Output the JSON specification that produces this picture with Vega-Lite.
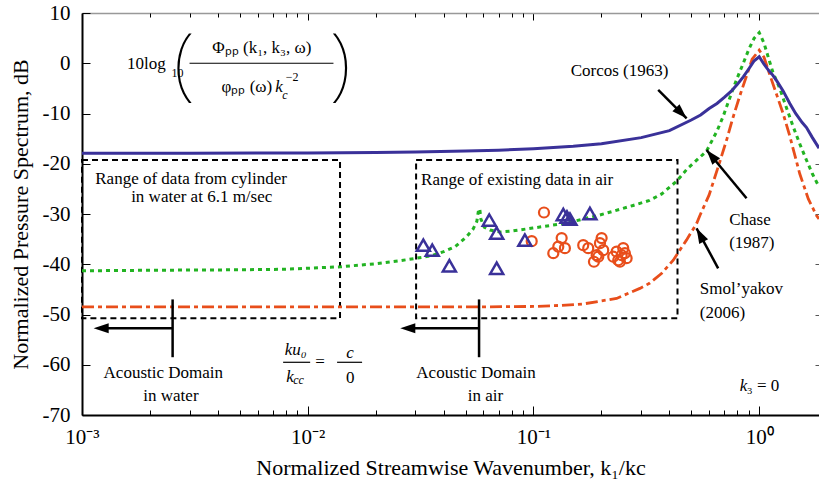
{
 "$schema": "https://vega.github.io/schema/vega-lite/v6.json",
 "width": 737, "height": 402,
 "autosize": {"type": "none"},
 "padding": {"left": 82, "top": 13, "right": 0, "bottom": 67},
 "background": "white",
 "config": {"view": {"stroke": null}, "font": "Liberation Serif", "text": {"font": "Liberation Serif", "color": "black"}},
 "datasets": {
  "corcos": [
   {"k":0.001,"v":-17.9},{"k":0.003,"v":-17.9},{"k":0.01,"v":-17.85},{"k":0.02,"v":-17.75},{"k":0.03,"v":-17.65},{"k":0.05,"v":-17.45},{"k":0.07,"v":-17.3},{"k":0.1,"v":-17.0},{"k":0.15,"v":-16.5},{"k":0.2,"v":-16.0},{"k":0.3,"v":-14.8},{"k":0.4,"v":-13.4},{"k":0.5,"v":-11.3},{"k":0.55,"v":-10.3},{"k":0.6,"v":-9.0},{"k":0.65,"v":-8.0},{"k":0.7,"v":-6.8},{"k":0.75,"v":-5.6},{"k":0.8,"v":-4.2},{"k":0.85,"v":-2.7},{"k":0.9,"v":-1.1},{"k":0.95,"v":0.5},{"k":1.0,"v":1.3},{"k":1.05,"v":-0.2},{"k":1.1,"v":-1.4},{"k":1.15,"v":-2.4},{"k":1.2,"v":-3.6},{"k":1.276,"v":-5.5},{"k":1.366,"v":-8.0},{"k":1.45,"v":-10.0},{"k":1.55,"v":-11.8},{"k":1.62,"v":-12.8},{"k":1.72,"v":-14.8},{"k":1.84,"v":-16.9}
  ],
  "chase": [
   {"k":0.001,"v":-41.3},{"k":0.002,"v":-41.2},{"k":0.005,"v":-41.1},{"k":0.0078,"v":-41.0},{"k":0.01,"v":-40.8},{"k":0.014,"v":-40.5},{"k":0.02,"v":-39.9},{"k":0.0256,"v":-39.3},{"k":0.0325,"v":-38.6},{"k":0.0358,"v":-38.2},{"k":0.04,"v":-37.5},{"k":0.045,"v":-36.5},{"k":0.0506,"v":-34.5},{"k":0.054,"v":-33.0},{"k":0.0561,"v":-31.5},{"k":0.0572,"v":-29.0},{"k":0.0578,"v":-29.0},{"k":0.0585,"v":-31.0},{"k":0.0605,"v":-32.6},{"k":0.0642,"v":-33.2},{"k":0.0711,"v":-33.6},{"k":0.08,"v":-33.4},{"k":0.0992,"v":-32.8},{"k":0.1403,"v":-31.8},{"k":0.197,"v":-30.2},{"k":0.2765,"v":-28.3},{"k":0.3265,"v":-27.3},{"k":0.37,"v":-26.0},{"k":0.43,"v":-23.5},{"k":0.48,"v":-21.0},{"k":0.584,"v":-17.5},{"k":0.65,"v":-13.5},{"k":0.692,"v":-10.6},{"k":0.763,"v":-5.3},{"k":0.793,"v":-3.3},{"k":0.85,"v":0.0},{"k":0.9,"v":2.8},{"k":0.95,"v":5.0},{"k":1.0,"v":6.1},{"k":1.05,"v":4.0},{"k":1.1,"v":1.0},{"k":1.15,"v":-1.8},{"k":1.233,"v":-5.0},{"k":1.3,"v":-8.0},{"k":1.413,"v":-12.6},{"k":1.52,"v":-16.3},{"k":1.62,"v":-19.3},{"k":1.72,"v":-22.0},{"k":1.84,"v":-24.6}
  ],
  "smol": [
   {"k":0.001,"v":-48.5},{"k":0.01,"v":-48.5},{"k":0.05,"v":-48.5},{"k":0.1,"v":-48.4},{"k":0.13,"v":-48.2},{"k":0.166,"v":-47.9},{"k":0.2335,"v":-46.8},{"k":0.296,"v":-44.8},{"k":0.3265,"v":-43.8},{"k":0.37,"v":-41.8},{"k":0.416,"v":-39.2},{"k":0.43,"v":-38.2},{"k":0.476,"v":-35.2},{"k":0.528,"v":-31.9},{"k":0.546,"v":-30.3},{"k":0.6,"v":-26.2},{"k":0.669,"v":-19.6},{"k":0.72,"v":-15.0},{"k":0.763,"v":-11.0},{"k":0.82,"v":-6.5},{"k":0.879,"v":-2.5},{"k":0.93,"v":0.8},{"k":1.0,"v":2.6},{"k":1.05,"v":1.2},{"k":1.114,"v":-2.3},{"k":1.2,"v":-6.5},{"k":1.276,"v":-10.0},{"k":1.366,"v":-14.5},{"k":1.512,"v":-22.0},{"k":1.65,"v":-27.0},{"k":1.794,"v":-30.3},{"k":1.84,"v":-31.0}
  ],
  "tri": [
   {"k":0.0325,"v":-36.2},{"k":0.0356,"v":-37.2},{"k":0.0424,"v":-40.3},{"k":0.0637,"v":-31.2},{"k":0.0687,"v":-33.8},{"k":0.0687,"v":-40.8},{"k":0.0916,"v":-35.2},{"k":0.1355,"v":-30.1},{"k":0.1407,"v":-30.6},{"k":0.1451,"v":-31.0},{"k":0.1778,"v":-29.9}
  ],
  "circ": [
   {"k":0.1113,"v":-29.7},{"k":0.0982,"v":-35.4},{"k":0.1333,"v":-34.8},{"k":0.1378,"v":-36.8},{"k":0.1288,"v":-36.5},{"k":0.1224,"v":-37.8},{"k":0.1661,"v":-36.2},{"k":0.1748,"v":-36.8},{"k":0.1905,"v":-38.2},{"k":0.1853,"v":-39.5},{"k":0.2004,"v":-34.8},{"k":0.197,"v":-35.8},{"k":0.2037,"v":-37.2},{"k":0.1937,"v":-38.5},{"k":0.2256,"v":-38.5},{"k":0.2374,"v":-39.2},{"k":0.2498,"v":-36.8},{"k":0.2541,"v":-37.8},{"k":0.2458,"v":-38.2},{"k":0.2335,"v":-37.5},{"k":0.2415,"v":-39.5},{"k":0.2586,"v":-38.8}
  ],
  "boxes": [
   {"k":0.001,"k2":0.0139,"v":-19.25,"v2":-50.76},
   {"k":0.0302,"k2":0.4345,"v":-19.25,"v2":-50.76}
  ],
  "shafts": [
   {"k":0.3568,"k2":0.4768,"v":-5.32,"v2":-10.96},
   {"k":0.8787,"k2":0.5843,"v":-26.88,"v2":-17.26},
   {"k":0.6578,"k2":0.5278,"v":-40.81,"v2":-32.85},
   {"k":0.00252,"k2":0.00252,"v":-47.0,"v2":-58.5},
   {"k":0.00252,"k2":0.00125,"v":-52.75,"v2":-52.75},
   {"k":0.0574,"k2":0.0574,"v":-47.0,"v2":-58.5},
   {"k":0.0574,"k2":0.0285,"v":-52.75,"v2":-52.75}
  ],
  "fracs": [
   {"k":0.002995,"k2":0.0130,"v":0.0,"v2":0.0},
   {"k":0.00778,"k2":0.01025,"v":-59.51,"v2":-59.51},
   {"k":0.01349,"k2":0.01741,"v":-59.51,"v2":-59.51}
  ],
  "headLeft": [{"k":0.001126,"v":-52.75},{"k":0.0257,"v":-52.75}],
  "headCorcos": [{"k":0.4768,"v":-10.96}],
  "headChase": [{"k":0.5843,"v":-17.26}],
  "headSmol": [{"k":0.5278,"v":-32.85}],
  "txtLeft": [
   {"k":0.001145,"v":-23.0,"t":"Range of data from cylinder"},
   {"k":0.03177,"v":-23.2,"t":"Range of existing data in air"},
   {"k":0.1461,"v":-1.5,"t":"Corcos (1963)"},
   {"k":0.7358,"v":-31.2,"t":"Chase"},
   {"k":0.7358,"v":-35.8,"t":"(1987)"},
   {"k":0.5458,"v":-45.0,"t":"Smol’yakov"},
   {"k":0.5458,"v":-49.8,"t":"(2006)"},
   {"k":0.001582,"v":-0.15,"t":"10log"},
   {"k":0.8812,"v":-64.2,"t":"₃ = 0"}
  ],
  "txtCenter": [
   {"k":0.003391,"v":-26.6,"t":"in water at 6.1 m/sec"},
   {"k":0.002291,"v":-61.6,"t":"Acoustic Domain"},
   {"k":0.002477,"v":-66.2,"t":"in water"},
   {"k":0.05566,"v":-61.6,"t":"Acoustic Domain"},
   {"k":0.0613,"v":-66.2,"t":"in air"},
   {"k":0.006263,"v":3.0,"t":"Φₚₚ (k₁, k₃, ω)"},
   {"k":0.01135,"v":-59.45,"t":"="},
   {"k":0.01541,"v":-62.64,"t":"0"}
  ],
  "txtItalicCenter": [
   {"k":0.008841,"v":-57.07,"t":"ku₀"},
   {"k":0.01541,"v":-57.66,"t":"c"}
  ],
  "txtItalicLeft": [
   {"k":0.8207,"v":-64.2,"t":"k"},
   {"k":0.008024,"v":-62.38,"t":"k"},
   {"k":0.007173,"v":-4.67,"t":"k"}
  ],
  "txtRight": [
   {"k":0.006957,"v":-4.67,"t":"φₚₚ (ω)"}
  ],
  "txtSmall": [
   {"k":0.00249,"v":-1.9,"t":"10"},
   {"k":0.007983,"v":-2.68,"t":"−2"}
  ],
  "txtSmallItalic": [
   {"k":0.007701,"v":-6.32,"t":"c"},
   {"k":0.008619,"v":-63.03,"t":"cc"}
  ],
  "parens": [
   {"k":0.002837,"v":-0.55,"t":"("},
   {"k":0.01391,"v":-0.55,"t":")"}
  ],
  "anchor": [{"k":0.01,"v":0}]
 },
 "encoding": {
  "x": {"field": "k", "type": "quantitative", "scale": {"type": "log", "domain": [0.001, 1.84], "nice": false}, "axis": null},
  "y": {"field": "v", "type": "quantitative", "scale": {"domain": [-70, 10], "nice": false, "zero": false}, "axis": null}
 },
 "layer": [
  {
   "data": {"name": "anchor"},
   "mark": {"type": "point", "opacity": 0},
   "encoding": {
    "x": {"field": "k", "type": "quantitative", "scale": {"type": "log", "domain": [0.001, 1.84], "nice": false},
      "axis": {"orient": "bottom", "values": [0.001, 0.01, 0.1, 1], "tickSize": -9, "tickColor": "black", "tickWidth": 1,
        "domainColor": "black", "domainWidth": 2, "labelFont": "Liberation Serif", "labelFontSize": 21, "labelColor": "black",
        "labelPadding": 20, "labelFlush": false, "grid": false,
        "labelExpr": "'10' + (datum.value < 0.005 ? '⁻³' : datum.value < 0.05 ? '⁻²' : datum.value < 0.5 ? '⁻¹' : '⁰')",
        "title": "Normalized Streamwise Wavenumber, k₁/kc", "titleFont": "Liberation Serif", "titleFontSize": 22, "titleFontWeight": "normal", "titleColor": "black", "titlePadding": 10}},
    "y": {"field": "v", "type": "quantitative", "scale": {"domain": [-70, 10], "nice": false, "zero": false},
      "axis": {"orient": "left", "values": [-70, -60, -50, -40, -30, -20, -10, 0, 10], "tickSize": -8, "tickColor": "black", "tickWidth": 1,
        "domainColor": "black", "domainWidth": 2, "labelFont": "Liberation Serif", "labelFontSize": 21, "labelColor": "black",
        "labelPadding": 20, "labelFlush": false, "grid": false, "labelExpr": "'' + datum.value",
        "title": "Normalized Pressure Spectrum, dB", "titleFont": "Liberation Serif", "titleFontSize": 22, "titleFontWeight": "normal", "titleColor": "black", "titlePadding": 10}}
   }
  },
  {
   "data": {"name": "anchor"},
   "mark": {"type": "point", "opacity": 0},
   "encoding": {
    "x": {"field": "k", "type": "quantitative", "scale": {"type": "log", "domain": [0.001, 1.84], "nice": false},
      "axis": {"orient": "bottom", "values": [0.002,0.003,0.004,0.005,0.006,0.007,0.008,0.009,0.02,0.03,0.04,0.05,0.06,0.07,0.08,0.09,0.2,0.3,0.4,0.5,0.6,0.7,0.8,0.9],
        "tickSize": -5, "tickColor": "black", "domain": false, "labels": false, "grid": false, "title": null}},
    "y": {"field": "v", "type": "quantitative", "scale": {"domain": [-70, 10], "nice": false, "zero": false},
      "axis": {"orient": "right", "values": [-60, -50, -40, -30, -20, -10, 0], "tickSize": -4, "tickColor": "#555", "domain": false, "labels": false, "grid": false, "title": null}}
   }
  },
  {
   "data": {"name": "anchor"},
   "mark": {"type": "point", "opacity": 0},
   "encoding": {
    "x": {"field": "k", "type": "quantitative", "scale": {"type": "log", "domain": [0.001, 1.84], "nice": false},
      "axis": {"orient": "top", "values": [0.001, 0.01, 0.1, 1], "tickSize": -7, "tickColor": "black", "domainColor": "#999", "domainWidth": 1.5, "labels": false, "grid": false, "title": null}}
   }
  },
  {
   "data": {"name": "anchor"},
   "mark": {"type": "point", "opacity": 0},
   "encoding": {
    "x": {"field": "k", "type": "quantitative", "scale": {"type": "log", "domain": [0.001, 1.84], "nice": false},
      "axis": {"orient": "top", "values": [0.002,0.003,0.004,0.005,0.006,0.007,0.008,0.009,0.02,0.03,0.04,0.05,0.06,0.07,0.08,0.09,0.2,0.3,0.4,0.5,0.6,0.7,0.8,0.9],
        "tickSize": -4, "tickColor": "black", "domain": false, "labels": false, "grid": false, "title": null}}
   }
  },
  {
   "data": {"name": "boxes"},
   "mark": {"type": "rect", "filled": false, "color": "black", "strokeWidth": 2, "strokeDash": [6, 4]},
   "encoding": {"x2": {"field": "k2"}, "y2": {"field": "v2"}}
  },
  {
   "data": {"name": "smol"},
   "mark": {"type": "line", "color": "#e84e1b", "strokeWidth": 2.8, "strokeDash": [12, 4, 4, 4], "clip": true},
   "encoding": {}
  },
  {
   "data": {"name": "chase"},
   "mark": {"type": "line", "color": "#22b322", "strokeWidth": 3, "strokeDash": [4, 4], "clip": true},
   "encoding": {}
  },
  {
   "data": {"name": "corcos"},
   "mark": {"type": "line", "color": "#3a3199", "strokeWidth": 3, "clip": true},
   "encoding": {}
  },
  {
   "data": {"name": "circ"},
   "mark": {"type": "point", "shape": "circle", "size": 100, "filled": false, "color": "#e84e1b", "strokeWidth": 2.2, "opacity": 1},
   "encoding": {}
  },
  {
   "data": {"name": "tri"},
   "mark": {"type": "point", "shape": "triangle-up", "size": 170, "filled": false, "color": "#3a3199", "strokeWidth": 2.5, "opacity": 1},
   "encoding": {}
  },
  {
   "data": {"name": "shafts"},
   "mark": {"type": "rule", "color": "black", "strokeWidth": 2.5},
   "encoding": {"x2": {"field": "k2"}, "y2": {"field": "v2"}}
  },
  {
   "data": {"name": "fracs"},
   "mark": {"type": "rule", "color": "black", "strokeWidth": 1.2},
   "encoding": {"x2": {"field": "k2"}, "y2": {"field": "v2"}}
  },
  {
   "data": {"name": "headLeft"},
   "mark": {"type": "point", "shape": "M0,0L-0.6,1.8L0.6,1.8Z", "size": 280, "filled": true, "color": "black", "opacity": 1, "angle": 270},
   "encoding": {}
  },
  {
   "data": {"name": "headCorcos"},
   "mark": {"type": "point", "shape": "M0,0L-0.6,1.8L0.6,1.8Z", "size": 280, "filled": true, "color": "black", "opacity": 1, "angle": 135},
   "encoding": {}
  },
  {
   "data": {"name": "headChase"},
   "mark": {"type": "point", "shape": "M0,0L-0.6,1.8L0.6,1.8Z", "size": 280, "filled": true, "color": "black", "opacity": 1, "angle": 320},
   "encoding": {}
  },
  {
   "data": {"name": "headSmol"},
   "mark": {"type": "point", "shape": "M0,0L-0.6,1.8L0.6,1.8Z", "size": 280, "filled": true, "color": "black", "opacity": 1, "angle": 332},
   "encoding": {}
  },
  {
   "data": {"name": "txtLeft"},
   "mark": {"type": "text", "align": "left", "baseline": "middle", "fontSize": 17, "color": "black"},
   "encoding": {"text": {"field": "t"}}
  },
  {
   "data": {"name": "txtCenter"},
   "mark": {"type": "text", "align": "center", "baseline": "middle", "fontSize": 17, "color": "black"},
   "encoding": {"text": {"field": "t"}}
  },
  {
   "data": {"name": "txtItalicCenter"},
   "mark": {"type": "text", "align": "center", "baseline": "middle", "fontSize": 17, "fontStyle": "italic", "color": "black"},
   "encoding": {"text": {"field": "t"}}
  },
  {
   "data": {"name": "txtItalicLeft"},
   "mark": {"type": "text", "align": "left", "baseline": "middle", "fontSize": 17, "fontStyle": "italic", "color": "black"},
   "encoding": {"text": {"field": "t"}}
  },
  {
   "data": {"name": "txtRight"},
   "mark": {"type": "text", "align": "right", "baseline": "middle", "fontSize": 17, "color": "black"},
   "encoding": {"text": {"field": "t"}}
  },
  {
   "data": {"name": "txtSmall"},
   "mark": {"type": "text", "align": "left", "baseline": "middle", "fontSize": 12, "color": "black"},
   "encoding": {"text": {"field": "t"}}
  },
  {
   "data": {"name": "txtSmallItalic"},
   "mark": {"type": "text", "align": "left", "baseline": "middle", "fontSize": 12, "fontStyle": "italic", "color": "black"},
   "encoding": {"text": {"field": "t"}}
  },
  {
   "data": {"name": "parens"},
   "mark": {"type": "text", "align": "center", "baseline": "middle", "fontSize": 80, "font": "Noto Sans", "fontWeight": 100, "color": "black"},
   "encoding": {"text": {"field": "t"}}
  }
 ],
 "resolve": {"axis": {"x": "independent", "y": "independent"}}
}
